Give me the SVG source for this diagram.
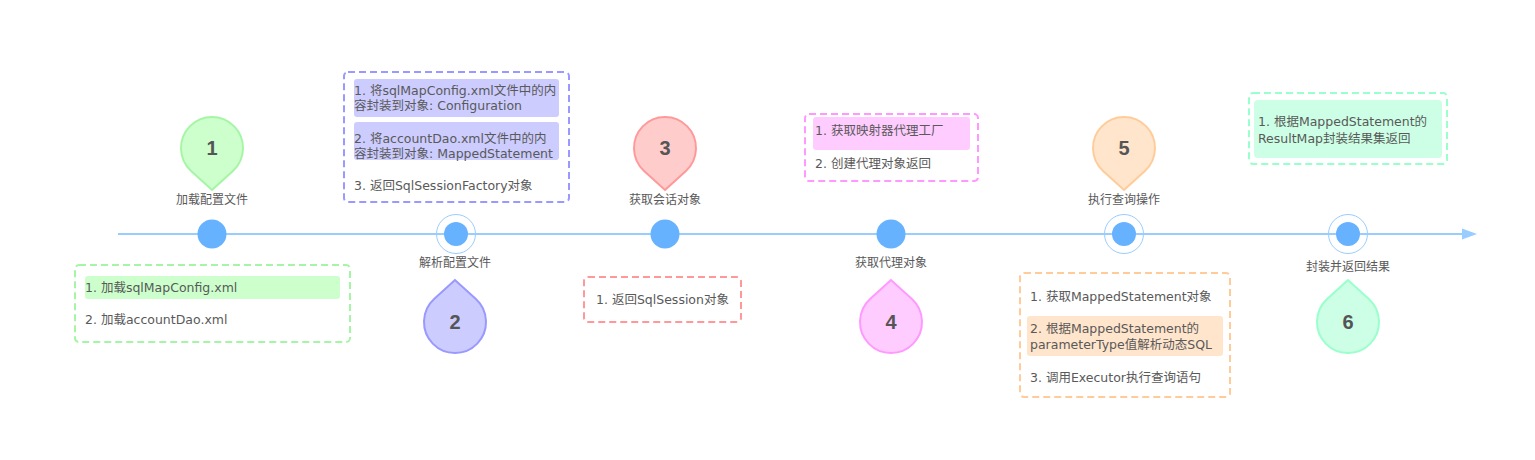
<svg xmlns="http://www.w3.org/2000/svg" width="1535" height="460" viewBox="0 0 1535 460">
<defs>
<style>
text{font-family:"DejaVu Sans","Noto Sans CJK SC",sans-serif;fill:#595959;font-size:12.5px}
.num{font-family:"Liberation Sans","Noto Sans",sans-serif;font-weight:bold;font-size:20px;text-anchor:middle;fill:#555}
.lbl{text-anchor:middle;font-size:12px;font-family:"Noto Sans CJK SC",sans-serif}
.box{fill:#fff;stroke-width:2;stroke-dasharray:7 4}
.dot{fill:#66b2ff}
.ring{fill:none;stroke:#99ccff;stroke-width:1}
</style>
<path id="drop" d="M0,42 L20.9,22.9 A31,31 0 1 0 -20.9,22.9 Z" stroke-width="2"/>
</defs>
<rect width="1535" height="460" fill="#fff"/>
<g id="connectors">
<line x1="118" y1="234" x2="1464" y2="234" stroke="#99ccff" stroke-width="2"/>
<polygon points="1462,228.5 1477,234 1462,239.5" fill="#99ccff"/>
</g>
<g id="step1">
<use href="#drop" transform="translate(212,148)" fill="#ccffcc" stroke="#a6f5a6"/>
<text class="num" x="212" y="155">1</text>
<text class="lbl" x="212" y="204">加载配置文件</text>
<circle class="dot" cx="212" cy="234" r="14.5"/>
<rect class="box" x="75" y="265" width="275" height="77" rx="4" stroke="#a6f5a6"/>
<rect x="85" y="276" width="255" height="23" rx="3" fill="#ccffcc"/>
<text x="85" y="292">1. 加载sqlMapConfig.xml</text>
<text x="85" y="324">2. 加载accountDao.xml</text>
</g>
<g id="step2">
<use href="#drop" transform="translate(455,322) rotate(180)" fill="#ccccff" stroke="#9999ff"/>
<text class="num" x="455" y="329">2</text>
<text class="lbl" x="455" y="267">解析配置文件</text>
<circle class="ring" cx="456" cy="234" r="19.5"/>
<circle class="dot" cx="456" cy="234" r="12"/>
<rect class="box" x="344" y="72" width="225" height="130" rx="4" stroke="#9999ff"/>
<rect x="354" y="79" width="205" height="38" rx="3" fill="#ccccff"/>
<text x="354" y="95">1. 将sqlMapConfig.xml文件中的内</text>
<text x="354" y="110">容封装到对象: Configuration</text>
<rect x="354" y="122" width="205" height="38" rx="3" fill="#ccccff"/>
<text x="354" y="143">2. 将accountDao.xml文件中的内</text>
<text x="354" y="158">容封装到对象: MappedStatement</text>
<text x="354" y="190">3. 返回SqlSessionFactory对象</text>
</g>
<g id="step3">
<use href="#drop" transform="translate(665,148)" fill="#ffcccc" stroke="#ff9999"/>
<text class="num" x="665" y="155">3</text>
<text class="lbl" x="665" y="204">获取会话对象</text>
<circle class="dot" cx="665" cy="234" r="14.5"/>
<rect class="box" x="584" y="277" width="157" height="45" rx="4" stroke="#ff9999"/>
<text x="596" y="304">1. 返回SqlSession对象</text>
</g>
<g id="step4">
<use href="#drop" transform="translate(891,322) rotate(180)" fill="#ffccff" stroke="#ff99ff"/>
<text class="num" x="891" y="329">4</text>
<text class="lbl" x="891" y="267">获取代理对象</text>
<circle class="dot" cx="891" cy="234" r="14.5"/>
<rect class="box" x="805" y="114" width="173" height="67" rx="4" stroke="#ff99ff"/>
<rect x="813" y="117" width="157" height="33" rx="3" fill="#ffccff"/>
<text x="815" y="135">1. 获取映射器代理工厂</text>
<text x="815" y="168">2. 创建代理对象返回</text>
</g>
<g id="step5">
<use href="#drop" transform="translate(1124,148)" fill="#ffe5cc" stroke="#ffcc99"/>
<text class="num" x="1124" y="155">5</text>
<text class="lbl" x="1124" y="204">执行查询操作</text>
<circle class="ring" cx="1124" cy="234" r="19.5"/>
<circle class="dot" cx="1124" cy="234" r="12"/>
<rect class="box" x="1020" y="273" width="210" height="124" rx="4" stroke="#ffcc99"/>
<text x="1030" y="301">1. 获取MappedStatement对象</text>
<rect x="1027" y="316" width="196" height="40" rx="3" fill="#ffe5cc"/>
<text x="1030" y="333">2. 根据MappedStatement的</text>
<text x="1030" y="349">parameterType值解析动态SQL</text>
<text x="1030" y="382">3. 调用Executor执行查询语句</text>
</g>
<g id="step6">
<use href="#drop" transform="translate(1348,322) rotate(180)" fill="#ccffe5" stroke="#99ffcc"/>
<text class="num" x="1348" y="329">6</text>
<text class="lbl" x="1348" y="271">封装并返回结果</text>
<circle class="ring" cx="1348" cy="234" r="19.5"/>
<circle class="dot" cx="1348" cy="234" r="12"/>
<rect class="box" x="1249" y="93" width="198" height="71" rx="4" stroke="#99ffcc"/>
<rect x="1254" y="100" width="188" height="58" rx="4" fill="#ccffe5"/>
<text x="1258" y="126">1. 根据MappedStatement的</text>
<text x="1258" y="143">ResultMap封装结果集返回</text>
</g>
</svg>
